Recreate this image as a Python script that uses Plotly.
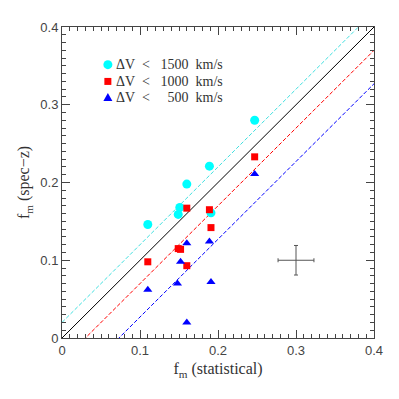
import plotly.graph_objects as go

# Data
cyan_x = [0.110, 0.247, 0.189, 0.160, 0.151, 0.149, 0.191]
cyan_y = [0.146, 0.280, 0.221, 0.198, 0.168, 0.159, 0.161]

red_x = [0.160, 0.189, 0.247, 0.191, 0.149, 0.152, 0.110, 0.160]
red_y = [0.167, 0.165, 0.233, 0.142, 0.115, 0.114, 0.098, 0.093]

blue_x = [0.247, 0.189, 0.160, 0.152, 0.110, 0.148, 0.191, 0.160]
blue_y = [0.211, 0.124, 0.122, 0.098, 0.062, 0.070, 0.072, 0.020]

line_x = [0.0, 0.4]
offset_cyan = 0.020
offset_red = -0.030
offset_blue = -0.073

err_x, err_y = [0.30], [0.10]
err_dx, err_dy = [0.023], [0.019]

NB = "\u00a0"
labels = ["\u0394V" + NB * 2 + "<" + NB * 3 + "1500" + NB * 2 + "km/s",
          "\u0394V" + NB * 2 + "<" + NB * 3 + "1000" + NB * 2 + "km/s",
          "\u0394V" + NB * 2 + "<" + NB * 5 + "500" + NB * 2 + "km/s"]
legend_colors = ["cyan", "red", "blue"]

fig = go.Figure()

fig.add_trace(go.Scatter(x=line_x, y=[v for v in line_x], mode="lines",
                         line=dict(color="black", width=1), showlegend=False))
fig.add_trace(go.Scatter(x=line_x, y=[v + offset_cyan for v in line_x], mode="lines",
                         line=dict(color="#40e0e0", width=1, dash="4px,2px"), showlegend=False))
fig.add_trace(go.Scatter(x=line_x, y=[v + offset_red for v in line_x], mode="lines",
                         line=dict(color="red", width=1, dash="4px,2px"), showlegend=False))
fig.add_trace(go.Scatter(x=line_x, y=[v + offset_blue for v in line_x], mode="lines",
                         line=dict(color="blue", width=1, dash="4px,2px"), showlegend=False))

fig.add_trace(go.Scatter(x=cyan_x, y=cyan_y, mode="markers", name=labels[0], showlegend=False,
                         marker=dict(symbol="circle", size=9, color="cyan")))
fig.add_trace(go.Scatter(x=red_x, y=red_y, mode="markers", name=labels[1], showlegend=False,
                         marker=dict(symbol="square", size=7, color="red")))
fig.add_trace(go.Scatter(x=blue_x, y=blue_y, mode="markers", name=labels[2], showlegend=False,
                         marker=dict(symbol="triangle-up", size=8, color="blue")))

fig.add_trace(go.Scatter(x=err_x, y=err_y, mode="markers", showlegend=False,
                         marker=dict(size=1, color="rgba(0,0,0,0)"),
                         error_x=dict(type="data", array=err_dx, color="#555", thickness=1, width=2),
                         error_y=dict(type="data", array=err_dy, color="#555", thickness=1, width=2)))

# Legend drawn as annotations + symbol shapes (paper coordinates)
leg_sym_x = 0.147
leg_txt_x = 0.168
leg_rows = [0.879, 0.825, 0.773]
for i, (lab, col, yy) in enumerate(zip(labels, legend_colors, leg_rows)):
    fig.add_annotation(x=leg_txt_x, y=yy, xref="paper", yref="paper", text=lab,
                       showarrow=False, xanchor="left", yanchor="middle",
                       font=dict(family="Liberation Serif", size=14, color="#333"))
    if i == 0:
        fig.add_shape(type="circle", xref="paper", yref="paper", xsizemode="pixel", ysizemode="pixel",
                      xanchor=leg_sym_x, yanchor=yy, x0=-4.5, x1=4.5, y0=-4.5, y1=4.5,
                      fillcolor=col, line=dict(width=0))
    elif i == 1:
        fig.add_shape(type="rect", xref="paper", yref="paper", xsizemode="pixel", ysizemode="pixel",
                      xanchor=leg_sym_x, yanchor=yy, x0=-3.5, x1=3.5, y0=-3.5, y1=3.5,
                      fillcolor=col, line=dict(width=0))
    else:
        fig.add_shape(type="path", xref="paper", yref="paper", xsizemode="pixel", ysizemode="pixel",
                      xanchor=leg_sym_x, yanchor=yy, path="M -4.5 -3.5 L 4.5 -3.5 L 0 4.5 Z",
                      fillcolor=col, line=dict(width=0))

axis_common = dict(range=[0, 0.4], dtick=0.1, ticks="inside", ticklen=8, tickcolor="#444",
                   showline=True, linecolor="#444", linewidth=1, mirror="allticks",
                   showgrid=False, zeroline=False,
                   tickfont=dict(family="Liberation Sans", size=13, color="#444"),
                   tickformat="~g",
                   minor=dict(ticks="inside", dtick=0.01, ticklen=4, tickcolor="#444", showgrid=False))

fig.update_xaxes(**axis_common,
                 title=dict(text="f<sub>m</sub> (statistical)", standoff=6,
                            font=dict(family="Liberation Serif", size=16, color="#333")))
fig.update_yaxes(**axis_common,
                 title=dict(text="f<sub>m</sub> (spec\u2212z)", standoff=6,
                            font=dict(family="Liberation Serif", size=16, color="#333")))

fig.update_layout(width=399, height=399, margin=dict(l=54, r=33, t=17, b=69),
                  plot_bgcolor="white", paper_bgcolor="white", showlegend=False)

fig.write_html("out.html")
